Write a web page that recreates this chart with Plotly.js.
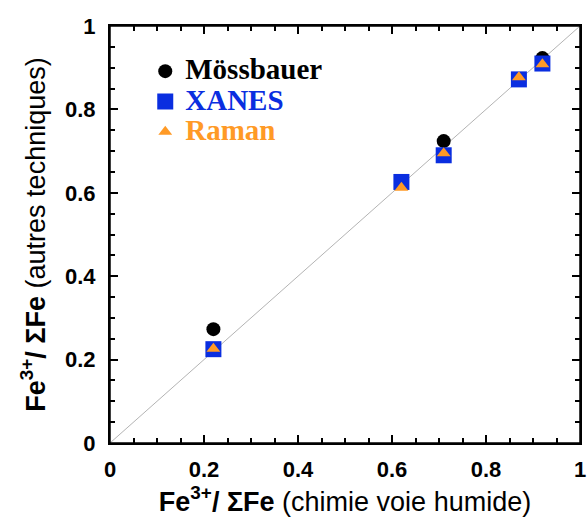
<!DOCTYPE html>
<html><head><meta charset="utf-8">
<script src="https://cdn.plot.ly/plotly-3.0.1.min.js"></script>
<style>body{margin:0;background:#fff}</style>
</head><body>
<div id="chart" style="width:587px;height:520px"></div>
<script>
const xWet = [0.22, 0.62, 0.71, 0.87, 0.92];
const mossX = [0.22, 0.71, 0.92];
const mossY = [0.273, 0.724, 0.923];
const xanesY = [0.225, 0.626, 0.69, 0.872, 0.91];
const ramanY = [0.226, 0.612, 0.695, 0.877, 0.908];
const diagX = [0, 1];
const diagY = [0, 1];
const seriesNames = ['Mössbauer', 'XANES', 'Raman'];
const seriesColors = ['#000000', '#0a2ee0', '#ff9a26'];

function legendName(i) {
  return '<span style="font-size:29px;color:' + seriesColors[i] + '">' + seriesNames[i] + '</span>';
}

const traces = [
  {x: diagX, y: diagY, mode: 'lines', line: {color: '#a0a0a0', width: 0.8}, showlegend: false, hoverinfo: 'skip'},
  {x: mossX, y: mossY, mode: 'markers', name: legendName(0),
   marker: {symbol: 'circle', size: 14, color: seriesColors[0]}},
  {x: xWet, y: xanesY, mode: 'markers', name: legendName(1),
   marker: {symbol: 'square', size: 16, color: seriesColors[1]}},
  {x: xWet, y: ramanY, mode: 'markers', name: legendName(2),
   marker: {symbol: 'triangle-up', size: 12, color: seriesColors[2]}}
];

const axisCommon = {
  range: [0, 1], showgrid: false, zeroline: false, showline: true, linecolor: '#000', linewidth: 2,
  mirror: 'ticks', ticks: 'inside', ticklen: 8, tickwidth: 2, tickcolor: '#000',
  dtick: 0.2, tick0: 0,
  minor: {dtick: 0.05, ticks: 'inside', ticklen: 5, tickwidth: 1.5, tickcolor: '#000'},
  tickfont: {family: 'Liberation Sans, Arial', size: 22, color: '#000', weight: 'bold'},
  ticklabeloverflow: 'allow'
};

const layout = {
  width: 587, height: 520,
  margin: {l: 110, r: 7, t: 26, b: 77},
  paper_bgcolor: '#fff', plot_bgcolor: 'rgba(0,0,0,0)',
  xaxis: Object.assign({}, axisCommon, {
    ticklabelstandoff: 6,
    title: {text: '<b>Fe<sup>3+</sup>/ ΣFe</b> (chimie voie humide)', standoff: 6,
      font: {family: 'Liberation Sans, Arial', size: 27, color: '#000'}}
  }),
  yaxis: Object.assign({}, axisCommon, {
    ticklabelstandoff: 8,
    title: {text: '<b>Fe<sup>3+</sup>/ ΣFe</b> (autres techniques)', standoff: 12,
      font: {family: 'Liberation Sans, Arial', size: 27, color: '#000'}}
  }),
  shapes: [{type: 'rect', xref: 'paper', yref: 'paper', x0: 0, x1: 1, y0: 0, y1: 1,
    line: {color: '#000', width: 1.5}, fillcolor: 'rgba(0,0,0,0)', layer: 'above'}],
  legend: {x: 0.075, y: 0.94, xanchor: 'left', yanchor: 'top', bgcolor: 'rgba(0,0,0,0)',
    font: {family: 'Liberation Serif, Times New Roman', size: 21, color: '#000', weight: 'bold'},
    tracegroupgap: 0, itemsizing: 'trace'},
  showlegend: true
};

Plotly.newPlot('chart', traces, layout, {displayModeBar: false});
</script>
</body></html>
